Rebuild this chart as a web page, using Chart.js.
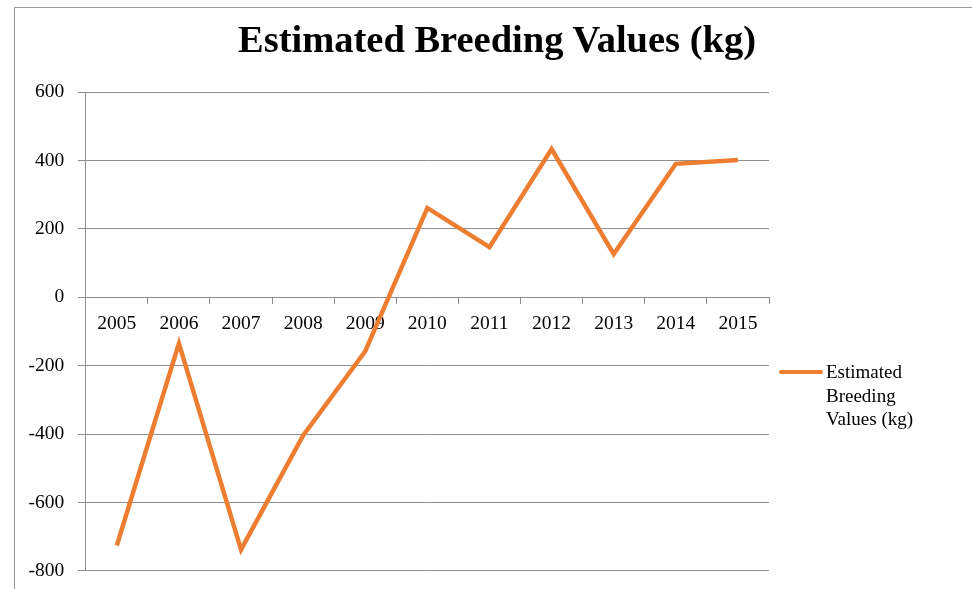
<!DOCTYPE html>
<html>
<head>
<meta charset="utf-8">
<script src="https://cdn.jsdelivr.net/npm/chart.js@4"></script>
<style>
  html, body { margin: 0; padding: 0; background: #fff; overflow: hidden; }
  body { width: 972px; height: 589px; position: relative; }
  #frame {
    position: absolute; left: 14px; top: 7px; width: 964px; height: 600px;
    border-left: 1px solid #999; border-top: 1px solid #999; box-sizing: border-box;
  }
  #chartBox { position: absolute; left: 0; top: 0; width: 963px; height: 588px; }
  #title {
    position: absolute; left: 0; top: 12px; width: 964px; text-align: center;
    font-family: "Liberation Serif", "Times New Roman", serif; font-weight: bold;
    font-size: 38.5px; line-height: 38px; color: #000;
  }
  #legend {
    position: absolute; left: 764px; top: 352px;
    font-family: "Liberation Serif", "Times New Roman", serif; font-size: 19px;
    line-height: 23.5px; color: #000; display: flex; align-items: flex-start;
  }
  #legend .swatch { width: 44px; height: 4px; border-radius: 2px; margin-top: 10px; margin-right: 3px; }
</style>
</head>
<body>
<div id="frame">
  <div id="chartBox"><canvas id="chart"></canvas></div>
  <div id="title"></div>
  <div id="legend"></div>
</div>
<script>
const chartTitle = "Estimated Breeding Values (kg)";
const seriesName = "Estimated Breeding Values (kg)";
const years = ["2005", "2006", "2007", "2008", "2009", "2010", "2011", "2012", "2013", "2014", "2015"];
const breedingValues = [-726, -135, -738, -404, -158, 261, 146, 433, 126, 390, 401];
const yTicks = [-800, -600, -400, -200, 0, 200, 400, 600];

const lineColor = "#ED7D31";
const gridColor = "#8f8f8f";
const serif = "'Liberation Serif', 'Times New Roman', serif";

document.querySelector("#title").textContent = chartTitle;

const legend = document.querySelector("#legend");
legend.innerHTML =
  `<div class="swatch" style="background:${lineColor}"></div>` +
  `<div>Estimated<br>Breeding<br>Values (kg)</div>`;

new Chart(document.querySelector("#chart"), {
  type: "line",
  data: {
    labels: years,
    datasets: [
      {
        label: seriesName,
        data: breedingValues,
        borderColor: lineColor,
        backgroundColor: lineColor,
        borderWidth: 4.5,
        pointRadius: 0,
        tension: 0,
      },
    ],
  },
  options: {
    responsive: true,
    maintainAspectRatio: false,
    animation: false,
    layout: {
      padding: { left: 0, right: 209, top: 84, bottom: 11 },
    },
    plugins: {
      legend: { display: false },
      tooltip: { enabled: false },
      title: { display: false },
    },
    scales: {
      x: {
        type: "category",
        position: { y: 0 },
        offset: true,
        grid: {
          offset: true,
          drawOnChartArea: false,
          drawTicks: true,
          tickLength: 6,
          color: gridColor,
        },
        border: { display: true, color: gridColor, width: 1 },
        ticks: {
          color: "#000",
          font: { family: serif, size: 19.5 },
          padding: 9,
          maxRotation: 0,
          autoSkip: false,
        },
      },
      y: {
        min: -800,
        max: 600,
        afterBuildTicks: (axis) => {
          axis.ticks = yTicks.map((value) => ({ value }));
        },
        grid: {
          color: gridColor,
          lineWidth: 1,
          tickLength: 8,
        },
        border: { display: true, color: gridColor, width: 1 },
        ticks: {
          color: "#000",
          font: { family: serif, size: 19.5 },
          padding: 13.5,
        },
      },
    },
  },
});
</script>
</body>
</html>
